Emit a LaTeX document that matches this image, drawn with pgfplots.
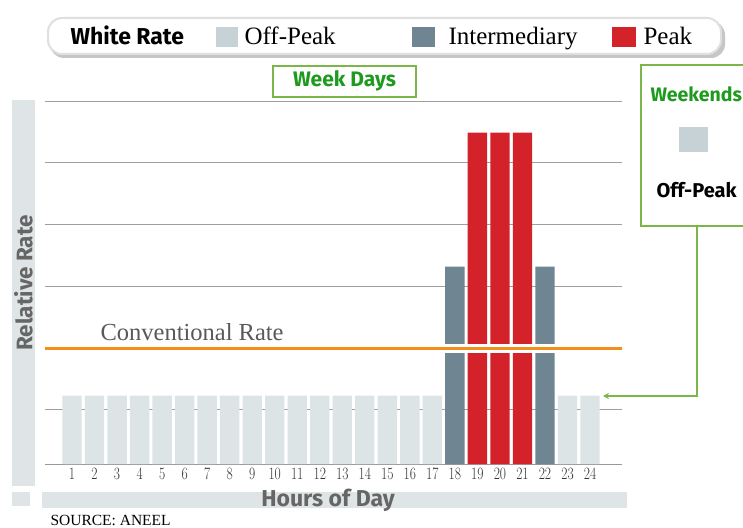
\documentclass[border=0pt]{standalone}
\usepackage{pgfplots}
\pgfplotsset{compat=1.18}
\usepackage{fontspec}
\setmainfont{Liberation Serif}
\newfontfamily\hfont{Fira Sans}
\usetikzlibrary{arrows.meta}
\definecolor{offpeak}{HTML}{DCE4E6}
\definecolor{offpeakleg}{HTML}{C6D2D6}
\definecolor{inter}{HTML}{6F8592}
\definecolor{peak}{HTML}{D3222A}
\definecolor{conv}{HTML}{F28E1C}
\definecolor{gbox}{HTML}{7AB648}
\definecolor{gtext}{HTML}{1E9A1E}
\definecolor{band}{HTML}{DFE5E7}
\definecolor{labgray}{HTML}{666666}
\begin{document}
\begin{tikzpicture}
\useasboundingbox (0,0) rectangle (743pt,527pt);
\fill[white] (0,0) rectangle (743pt,527pt);
\begin{axis}[
  at={(45pt,63pt)}, anchor=south west,
  scale only axis, width=577pt, height=363pt,
  xmin=-0.2, xmax=25.42, ymin=0.125, ymax=6,
  axis x line*=bottom, axis y line*=left,
  x axis line style={draw=gray!80, line width=1pt, -},
  y axis line style={draw=none},
  xtick={1,...,24}, major tick length=0pt,
  xticklabel style={font=\fontsize{17}{17}\selectfont, xscale=0.78, color=black!80, yshift=-1pt},
  ytick={1,2,3,4,5,6}, yticklabels={},
  ymajorgrids, major grid style={draw=gray!75, line width=0.9pt},
  clip=true,
]
\addplot[ybar, bar shift=0pt, bar width=0.86, fill=offpeak, draw=none] coordinates {
 (1,1.23) (2,1.23) (3,1.23) (4,1.23) (5,1.23) (6,1.23) (7,1.23) (8,1.23)
 (9,1.23) (10,1.23) (11,1.23) (12,1.23) (13,1.23) (14,1.23) (15,1.23)
 (16,1.23) (17,1.23) (23,1.23) (24,1.23)};
\addplot[ybar, bar shift=0pt, bar width=0.86, fill=inter, draw=none] coordinates {
 (18,3.32) (22,3.32)};
\addplot[ybar, bar shift=0pt, bar width=0.86, fill=peak, draw=none] coordinates {
 (19,5.49) (20,5.49) (21,5.49)};
\addplot[white, line width=9pt, no markers] coordinates {(-0.2,2) (25.42,2)};
\addplot[conv, line width=3pt, no markers] coordinates {(-0.2,2) (25.42,2)};
\end{axis}
\begin{scope}[x=1pt, y=-1pt, yshift=527pt]
 % legend box
 \fill[gray!45, rounded corners=14pt] (50,21) rectangle (725,58);
 \filldraw[fill=white, draw=gray!25, line width=2pt, rounded corners=14pt] (48,18) rectangle (721,54);
 \node[anchor=base west, font=\hfont\bfseries\fontsize{23}{23}\selectfont] at (67,44.5) {White Rate};
 \fill[offpeakleg] (216,27) rectangle (238,47);
 \node[anchor=base west, font=\fontsize{25}{25}\selectfont] at (241,45) {Off-Peak};
 \fill[inter] (412,27) rectangle (435,47);
 \node[anchor=base west, font=\fontsize{25}{25}\selectfont] at (445,45) {Intermediary};
 \fill[peak] (612,27) rectangle (636,47);
 \node[anchor=base west, font=\fontsize{25}{25}\selectfont] at (640,45) {Peak};
 % week days
 \filldraw[fill=white, draw=gbox, line width=1.5pt] (273,66) rectangle (416,97);
 \node[font=\hfont\bfseries\fontsize{21}{21}\selectfont, text=gtext] at (344.5,81) {Week Days};
 % weekends
 \draw[gbox, line width=1.5pt] (697,226) -- (697,396) -- (604,396);
 \draw[gbox, line width=1.5pt, -{Stealth[length=6pt,width=6pt]}] (630,396) -- (603,396);
 \filldraw[fill=white, draw=gbox, line width=1.5pt] (641,65) rectangle (760,226);
 \node[anchor=west, font=\hfont\bfseries\fontsize{19.5}{19.5}\selectfont, text=gtext] at (647,94) {Weekends};
 \fill[offpeakleg] (679,127) rectangle (708,152);
 \node[anchor=west, font=\hfont\bfseries\fontsize{20}{20}\selectfont] at (653,190) {Off-Peak};
 % conventional rate label
 \node[anchor=base west, font=\fontsize{24.5}{24.5}\selectfont, text=black!65] at (97,341) {Conventional Rate};
 % side bands
 \fill[band] (12,100) rectangle (35,486);
 \node[rotate=90, font=\hfont\bfseries\fontsize{22.5}{22.5}\selectfont, text=labgray] at (23.5,283) {Relative Rate};
 \fill[band] (12,492) rectangle (30,506);
 \fill[band] (42,492) rectangle (627,508);
 \node[font=\hfont\bfseries\fontsize{23}{23}\selectfont, text=labgray] at (328,500) {Hours of Day};
 \node[anchor=west, font=\fontsize{15.5}{15.5}\selectfont] at (47,520) {SOURCE: ANEEL};
\end{scope}
\end{tikzpicture}
\end{document}
